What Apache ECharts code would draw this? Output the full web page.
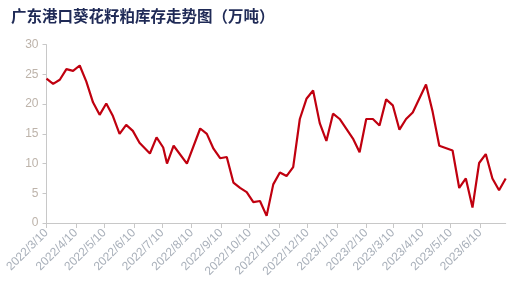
<!DOCTYPE html>
<html>
<head>
<meta charset="utf-8">
<script src="https://cdn.jsdelivr.net/npm/echarts@6/dist/echarts.min.js"></script>
<style>
html,body{margin:0;padding:0;background:#fff;}
#c{width:522px;height:295px;}
</style>
</head>
<body>
<div id="c"></div>
<script>
const titleText = '广东港口葵花籽粕库存走势图（万吨）';
const axisStart = '2022-03-10';
const axisEnd = '2023-07-07';
const dates = [
'2022-03-10','2022-03-17','2022-03-24','2022-03-31','2022-04-07','2022-04-14','2022-04-21','2022-04-28',
'2022-05-05','2022-05-12','2022-05-19','2022-05-26','2022-06-02','2022-06-09','2022-06-16','2022-06-27',
'2022-07-04','2022-07-11','2022-07-15','2022-07-22','2022-08-05','2022-08-19','2022-08-26','2022-09-02',
'2022-09-09','2022-09-16','2022-09-23','2022-09-30','2022-10-07','2022-10-14','2022-10-21','2022-10-28',
'2022-11-04','2022-11-11','2022-11-18','2022-11-25','2022-12-02','2022-12-09','2022-12-16','2022-12-23',
'2022-12-30','2023-01-06','2023-01-13','2023-01-27','2023-02-03','2023-02-10','2023-02-17','2023-02-24',
'2023-03-03','2023-03-10','2023-03-17','2023-03-24','2023-03-31','2023-04-14','2023-04-21','2023-04-28',
'2023-05-12','2023-05-19','2023-05-26','2023-06-02','2023-06-09','2023-06-16','2023-06-23','2023-06-30',
'2023-07-07'
];
const values = [
24.3,23.4,24.1,25.9,25.6,26.5,23.8,20.3,
18.2,20.1,18.0,15.0,16.5,15.5,13.5,11.7,
14.4,12.7,10.0,13.0,10.0,15.9,15.0,12.5,
10.9,11.1,6.8,5.9,5.2,3.5,3.7,1.2,
6.5,8.5,7.9,9.4,17.5,20.9,22.3,16.8,
13.8,18.4,17.5,14.2,11.9,17.5,17.5,16.4,
20.8,19.8,15.7,17.5,18.6,23.3,18.7,13.0,
12.2,5.9,7.5,2.6,10.1,11.6,7.5,5.5,
7.5
];

function fmt(d){return d.getUTCFullYear()+'/'+(d.getUTCMonth()+1)+'/'+d.getUTCDate();}
const cats = [];
const t0 = Date.parse(axisStart+'T00:00:00Z'), t1 = Date.parse(axisEnd+'T00:00:00Z');
for(let t=t0;t<=t1;t+=86400000){cats.push(fmt(new Date(t)));}
const lookup = {};
dates.forEach((d,i)=>{lookup[fmt(new Date(Date.parse(d+'T00:00:00Z')))] = values[i];});
const seriesData = cats.map(c => (c in lookup) ? lookup[c] : null);
const isTenth = (idx, val) => /\/10$/.test(val);

const chart = echarts.init(document.getElementById('c'), null, {renderer:'canvas'});
chart.setOption({
  backgroundColor:'#fff',
  animation:false,
  title:{
    text: titleText,
    left: 6, top: 3,
    textStyle:{fontFamily:'"Noto Sans CJK SC"', fontWeight:'bold', fontSize:15.5, color:'#1f2a56'}
  },
  grid:{left:46.5, right:16.3, top:44.7, bottom:72},
  xAxis:{
    type:'category',
    data: cats,
    boundaryGap:false,
    axisLine:{show:true, lineStyle:{color:'#c8c8c8', width:1}},
    axisTick:{show:true, interval:isTenth, length:5, lineStyle:{color:'#c8c8c8'}},
    axisLabel:{interval:isTenth, rotate:45, color:'#a9b0ba', fontSize:12, margin:8, fontFamily:'"Liberation Sans", Arial, sans-serif'},
    splitLine:{show:false}
  },
  yAxis:{
    type:'value',
    min:0, max:30, interval:5,
    axisLine:{show:true, lineStyle:{color:'#c8c8c8', width:1}},
    axisTick:{show:true, length:4, lineStyle:{color:'#c8c8c8'}},
    axisLabel:{color:'#bdb3aa', fontSize:12, margin:8, fontFamily:'"Liberation Sans", Arial, sans-serif'},
    splitLine:{show:false}
  },
  series:[{
    type:'line',
    data: seriesData,
    connectNulls:true,
    showSymbol:false,
    symbol:'none',
    lineStyle:{color:'#c0000f', width:2.2},
    itemStyle:{color:'#c0000f'}
  }]
});
</script>
</body>
</html>
